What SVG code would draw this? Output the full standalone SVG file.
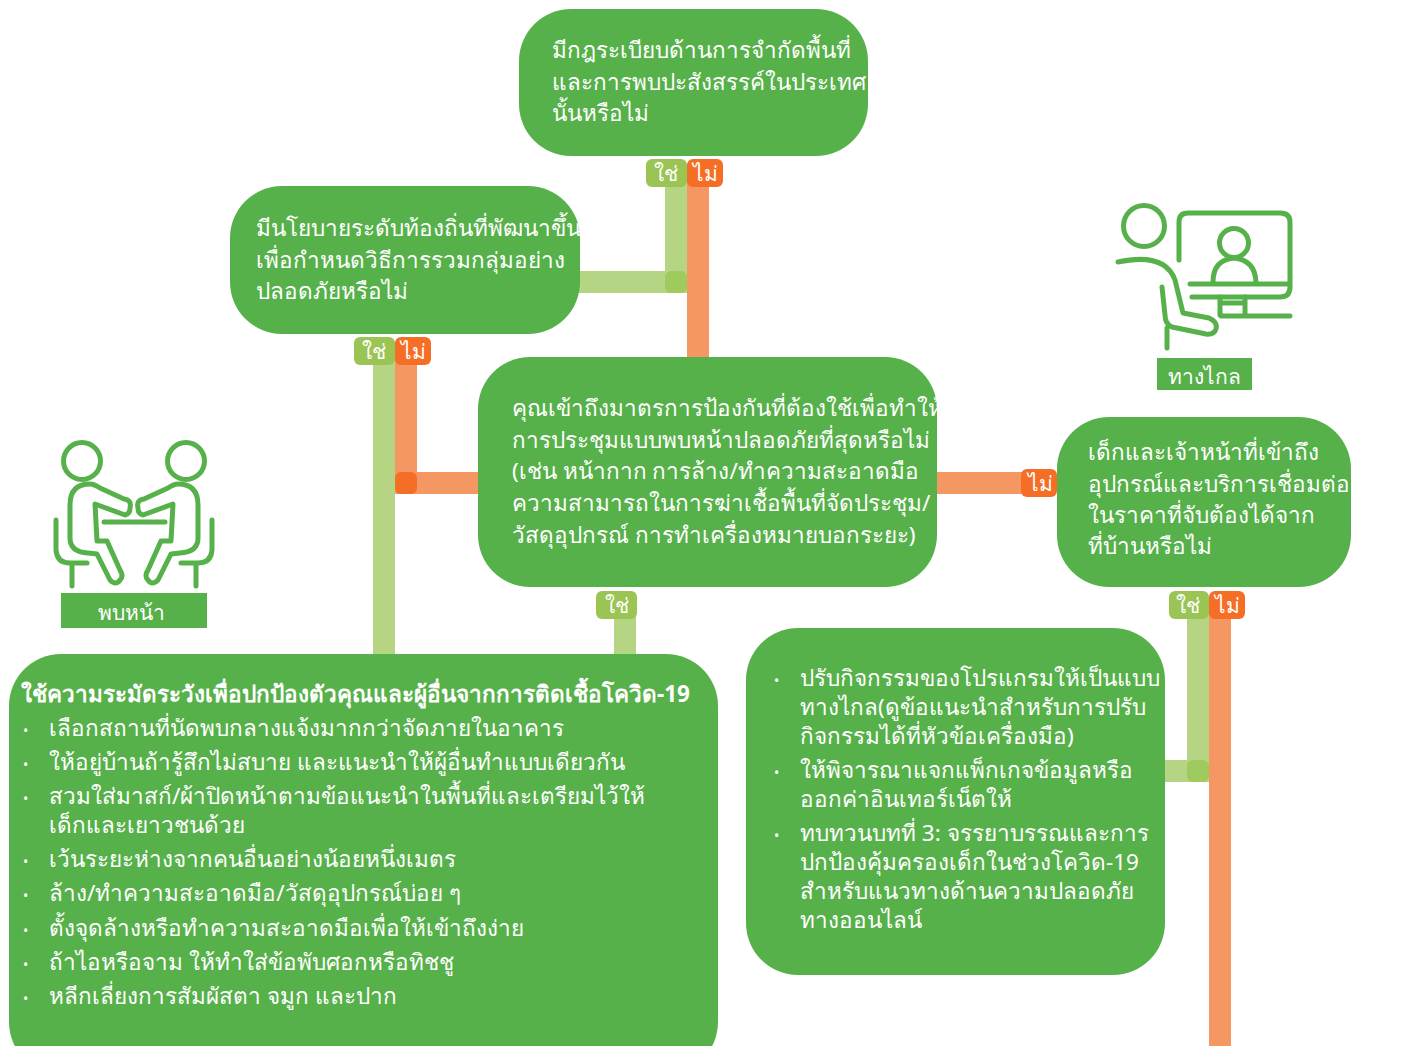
<svg xmlns="http://www.w3.org/2000/svg" width="1423" height="1046" viewBox="0 0 1423 1046">
<style>
text{font-family:"Noto Sans","Liberation Sans",sans-serif;fill:#fff;font-size:22.5px}
.n{fill:#57b14a}
.y{fill:#a0c95a;opacity:.8}
.yl{fill:#b5d585}
.ol{fill:#f59763}
.ty{fill:#9ac453}
.to{fill:#f56e25}
.t{font-size:21px;text-anchor:middle}
.b{fill:#fff;font-size:14px}
.i{fill:none;stroke:#57b14a;stroke-width:5;stroke-linecap:round;stroke-linejoin:round}
</style>
<rect width="1423" height="1046" fill="#fff"/>
<g id="connectors">
<rect class="yl" x="665" y="180" width="22" height="113" rx="0"/>
<rect class="yl" x="575" y="271" width="112" height="22"/>
<rect x="665" y="271" width="22" height="22" rx="6" fill="#9fca5e"/>
<rect class="ol" x="687" y="180" width="22" height="180"/>
<rect class="yl" x="373" y="360" width="22" height="300"/>
<rect class="ol" x="395" y="360" width="22" height="134"/>
<rect class="ol" x="395" y="472" width="90" height="22"/>
<rect x="395" y="472" width="22" height="22" rx="6" fill="#f56e25"/>
<rect class="ol" x="930" y="472" width="100" height="22"/>
<rect class="yl" x="614" y="610" width="22" height="50"/>
<rect class="yl" x="1187" y="610" width="22" height="172"/>
<rect class="yl" x="1160" y="760" width="49" height="22"/>
<rect x="1187" y="760" width="22" height="22" rx="6" fill="#9fca5e"/>
<rect class="ol" x="1209" y="610" width="22" height="436"/>
</g>
<g id="node-top"><rect class="n" x="519" y="9" width="349" height="147" rx="52"/>
<text x="552" y="58">มีกฎระเบียบด้านการจำกัดพื้นที่</text><text x="552" y="90">และการพบปะสังสรรค์ในประเทศ</text><text x="552" y="121">นั้นหรือไม่</text></g>
<g id="node-local"><rect class="n" x="230" y="186" width="350" height="148" rx="52"/>
<text x="256" y="236">มีนโยบายระดับท้องถิ่นที่พัฒนาขึ้น</text><text x="256" y="268">เพื่อกำหนดวิธีการรวมกลุ่มอย่าง</text><text x="256" y="299">ปลอดภัยหรือไม่</text></g>
<g id="node-access"><rect class="n" x="478" y="357" width="459" height="230" rx="52"/>
<text x="512" y="416">คุณเข้าถึงมาตรการป้องกันที่ต้องใช้เพื่อทำให้</text><text x="512" y="448">การประชุมแบบพบหน้าปลอดภัยที่สุดหรือไม่</text><text x="512" y="479">(เช่น หน้ากาก การล้าง/ทำความสะอาดมือ</text><text x="512" y="511">ความสามารถในการฆ่าเชื้อพื้นที่จัดประชุม/</text><text x="512" y="543">วัสดุอุปกรณ์ การทำเครื่องหมายบอกระยะ)</text></g>
<g id="node-home"><rect class="n" x="1057" y="417" width="294" height="170" rx="52"/>
<text x="1088" y="460">เด็กและเจ้าหน้าที่เข้าถึง</text><text x="1088" y="492">อุปกรณ์และบริการเชื่อมต่อ</text><text x="1088" y="523">ในราคาที่จับต้องได้จาก</text><text x="1088" y="554">ที่บ้านหรือไม่</text></g>
<g id="node-care"><rect class="n" x="9" y="654" width="709" height="420" rx="52"/>
<text x="21" y="702" font-weight="700" font-size="21">ใช้ความระมัดระวังเพื่อปกป้องตัวคุณและผู้อื่นจากการติดเชื้อโควิด-19</text>
<g font-size="21.5">
<text class="b" x="23" y="736">•</text><text x="49" y="736">เลือกสถานที่นัดพบกลางแจ้งมากกว่าจัดภายในอาคาร</text>
<text class="b" x="23" y="770">•</text><text x="49" y="770">ให้อยู่บ้านถ้ารู้สึกไม่สบาย และแนะนำให้ผู้อื่นทำแบบเดียวกัน</text>
<text class="b" x="23" y="804">•</text><text x="49" y="804">สวมใส่มาสก์/ผ้าปิดหน้าตามข้อแนะนำในพื้นที่และเตรียมไว้ให้</text>
<text x="49" y="833">เด็กและเยาวชนด้วย</text>
<text class="b" x="23" y="867">•</text><text x="49" y="867">เว้นระยะห่างจากคนอื่นอย่างน้อยหนึ่งเมตร</text>
<text class="b" x="23" y="901">•</text><text x="49" y="901">ล้าง/ทำความสะอาดมือ/วัสดุอุปกรณ์บ่อย ๆ</text>
<text class="b" x="23" y="936">•</text><text x="49" y="936">ตั้งจุดล้างหรือทำความสะอาดมือเพื่อให้เข้าถึงง่าย</text>
<text class="b" x="23" y="970">•</text><text x="49" y="970">ถ้าไอหรือจาม ให้ทำใส่ข้อพับศอกหรือทิชชู</text>
<text class="b" x="23" y="1004">•</text><text x="49" y="1004">หลีกเลี่ยงการสัมผัสตา จมูก และปาก</text>
</g></g>
<g id="node-remote"><rect class="n" x="746" y="628" width="419" height="347" rx="52"/>
<text class="b" x="774" y="686">•</text><text x="800" y="686">ปรับกิจกรรมของโปรแกรมให้เป็นแบบ</text><text x="800" y="715">ทางไกล(ดูข้อแนะนำสำหรับการปรับ</text><text x="800" y="744">กิจกรรมได้ที่หัวข้อเครื่องมือ)</text>
<text class="b" x="774" y="778">•</text><text x="800" y="778">ให้พิจารณาแจกแพ็กเกจข้อมูลหรือ</text><text x="800" y="807">ออกค่าอินเทอร์เน็ตให้</text>
<text class="b" x="774" y="841">•</text><text x="800" y="841">ทบทวนบทที่ 3: จรรยาบรรณและการ</text><text x="800" y="870">ปกป้องคุ้มครองเด็กในช่วงโควิด-19</text><text x="800" y="899">สำหรับแนวทางด้านความปลอดภัย</text><text x="800" y="928">ทางออนไลน์</text></g>
<g id="tags">
<rect class="ty" x="646" y="159" width="41" height="28" rx="6"/><text class="t" x="666" y="181">ใช่</text>
<rect class="to" x="687" y="159" width="36" height="28" rx="6"/><text class="t" x="705" y="181">ไม่</text>
<rect class="ty" x="354" y="337" width="41" height="28" rx="6"/><text class="t" x="374" y="359">ใช่</text>
<rect class="to" x="395" y="337" width="36" height="28" rx="6"/><text class="t" x="413" y="359">ไม่</text>
<rect class="to" x="1021" y="469" width="36" height="28" rx="6"/><text class="t" x="1040" y="491">ไม่</text>
<rect class="ty" x="596" y="591" width="41" height="28" rx="6"/><text class="t" x="617" y="613">ใช่</text>
<rect class="ty" x="1169" y="591" width="40" height="28" rx="6"/><text class="t" x="1188" y="613">ใช่</text>
<rect class="to" x="1209" y="591" width="36" height="28" rx="6"/><text class="t" x="1227" y="613">ไม่</text>
</g>
<g id="icon-remote">
<circle class="i" cx="1144" cy="226" r="20.5"/>
<path class="i" d="M1179 260V222Q1179 213 1188 213H1280Q1290 213 1290 222V287Q1290 297 1280 297H1192"/>
<circle class="i" cx="1234" cy="243" r="14.5"/>
<path class="i" d="M1213 282Q1213 260 1234 258Q1255 260 1256 282M1190 284H1288M1220 297V315M1245 297V315M1220 303H1245M1221 316H1290"/>
<path class="i" d="M1118 262Q1165 252 1175 280L1183 313L1209 318Q1218 322 1216 329Q1214 335 1206 334L1172 327Q1165 324 1165 315L1162 287M1167 328V348"/>
</g>
<g id="label-remote"><rect class="n" x="1157" y="358" width="95" height="32"/><text class="t" x="1204" y="384">ทางไกล</text></g>
<g id="icon-meet">
<circle class="i" cx="82" cy="461" r="18.5"/><circle class="i" cx="186" cy="461" r="18.5"/>
<path class="i" stroke-linecap="butt" d="M56 520V550Q57 563 70 563H87M72 564V586M212 520V550Q211 563 198 563H181M196 564V586M104 522H165"/>
<path class="i" d="M90 484Q70 484 70 505V538Q70 552 88 553L97 554L110 580Q116 586 120 580Q124 576 120 570L107 541H97L95 504L125 515Q130 514 130 508Q132 500 124 499L100 488Q94 484 90 484Z"/>
<path class="i" d="M178 484Q198 484 198 505V538Q198 552 180 553L171 554L158 580Q152 586 148 580Q144 576 148 570L161 541H171L173 504L143 515Q138 514 138 508Q136 500 144 499L168 488Q174 484 178 484Z"/>
</g>
<g id="label-meet"><rect class="n" x="61" y="593" width="146" height="35"/><text class="t" x="131" y="620">พบหน้า</text></g>
</svg>
